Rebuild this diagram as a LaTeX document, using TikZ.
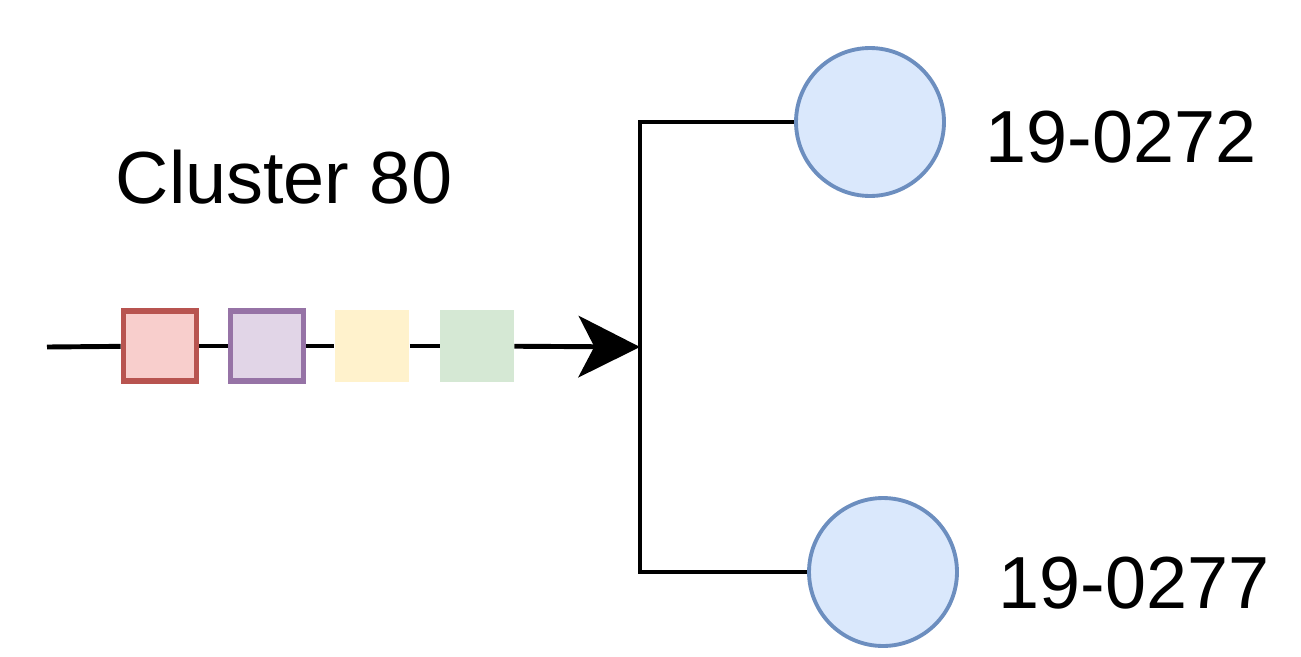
\documentclass[tikz,border=0pt]{standalone}
\usepackage{fontspec}
\setmainfont{Liberation Sans}
\usetikzlibrary{arrows.meta}
\definecolor{redF}{HTML}{F8CECC}\definecolor{redS}{HTML}{B85450}
\definecolor{purF}{HTML}{E1D5E7}\definecolor{purS}{HTML}{9673A6}
\definecolor{yelF}{HTML}{FFF2CC}
\definecolor{grnF}{HTML}{D5E8D4}
\definecolor{bluF}{HTML}{DAE8FC}\definecolor{bluS}{HTML}{6C8EBF}
\tikzset{
  px/.style={x=0.02cm,y=-0.02cm},
  wire/.style={line width=2.8pt,black},
  sqbox/.style={rectangle,inner sep=0pt,minimum width=2.0cm,minimum height=1.44cm},
  sample/.style={circle,draw=bluS,fill=bluF,line width=2.2pt,minimum size=2.96cm,inner sep=0pt},
  lbl/.style={font=\fontsize{42pt}{48pt}\selectfont,inner sep=0pt,anchor=base}
}
\begin{document}
\begin{tikzpicture}[px]
\useasboundingbox (0,0) rectangle (1301,656);
\coordinate (start) at (47,347);
\coordinate (j) at (640,347);
\coordinate (jt) at (640,122);
\coordinate (jb) at (640,572);
\node[sqbox,minimum width=1.46cm,minimum height=1.40cm,fill=redF,draw=redS,line width=3.2pt] (s1) at (160,346) {};
\node[sqbox,minimum width=1.46cm,minimum height=1.40cm,fill=purF,draw=purS,line width=3.2pt] (s2) at (267,346) {};
\node[sqbox,minimum width=1.5cm,minimum height=1.44cm,fill=yelF] (s3) at (372,346) {};
\node[sqbox,minimum width=1.48cm,minimum height=1.44cm,fill=grnF] (s4) at (477,346) {};
\node[sample] (c1) at (870,122) {};
\node[sample] (c2) at (883,572) {};
\node[lbl] (t0) at (284,203) {Cluster 80};
\node[lbl] (t1) at (1121,162) {19-0272};
\node[lbl] (t2) at (1134,608) {19-0277};
\draw[wire] (start) -- (s1);
\draw[wire] (s1) -- (s2);
\draw[wire] (s2) -- (s3);
\draw[wire] (s3) -- (s4);
\draw[wire,-{Stealth[length=35pt,width=35pt,inset=9pt]}] (s4) -- (j);
\draw[wire] (c1.west) -- (jt) -- (jb) -- (c2.west);
\end{tikzpicture}
\end{document}
